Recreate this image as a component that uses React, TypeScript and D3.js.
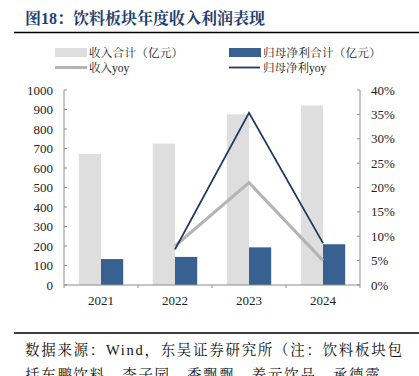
import React from "react";
import * as d3 from "d3";

const years = ["2021", "2022", "2023", "2024"];
const revenue = [672, 725, 875, 920];
const netProfit = [133, 144, 193, 209];
const revenueYoy = [null, 8.0, 21.0, 5.0];
const profitYoy = [null, 7.3, 35.3, 8.6];
const leftTicks = [0, 100, 200, 300, 400, 500, 600, 700, 800, 900, 1000];
const rightTicks = [0, 5, 10, 15, 20, 25, 30, 35, 40];

const serif = "'Liberation Serif', 'Noto Sans CJK SC', serif";
const cjk = "'Liberation Serif', 'Noto Serif CJK SC', 'Noto Sans CJK SC', serif";

export default function App() {
  const W = 419, H = 376;
  const x0 = 64, x1 = 360, yTop = 90, yBot = 285;
  const x = d3.scaleBand().domain(years).range([x0, x1]).paddingInner(0).paddingOuter(0);
  const yL = d3.scaleLinear().domain([0, 1000]).range([yBot, yTop]);
  const yR = d3.scaleLinear().domain([0, 40]).range([yBot, yTop]);
  const bw = x.bandwidth();
  const barW = bw * 0.3;
  const axisColor = "#8c8c8c";

  const line = d3
    .line<[string, number | null]>()
    .defined((d) => d[1] != null)
    .x((d) => (x(d[0]) as number) + bw / 2)
    .y((d) => yR(d[1] as number));

  const revPts = years.map((y, i) => [y, revenueYoy[i]] as [string, number | null]);
  const profPts = years.map((y, i) => [y, profitYoy[i]] as [string, number | null]);

  return (
    <svg width={W} height={H} style={{ position: "absolute", left: 0, top: 0, background: "#fff" }}>
      <text x={25} y={24} fontFamily={cjk} fontWeight="bold" fontSize={16} fill="#1f3f6e">
        图18：饮料板块年度收入利润表现
      </text>
      <line x1={14} x2={419} y1={32.5} y2={32.5} stroke="#000" strokeWidth={1.6} />

      {/* legend */}
      <rect x={55} y={48} width={32} height={9} fill="#dedede" />
      <text x={89} y={57} fontFamily={cjk} fontSize={11.5} letterSpacing={0.3} fill="#222">收入合计（亿元）</text>
      <rect x={229} y={48} width={32} height={9} fill="#386091" />
      <text x={263} y={57} fontFamily={cjk} fontSize={11.5} letterSpacing={0.3} fill="#222">归母净利合计（亿元）</text>
      <line x1={55} x2={87} y1={67.5} y2={67.5} stroke="#b4b4b4" strokeWidth={3} />
      <text x={89} y={72} fontFamily={cjk} fontSize={11.5} fill="#222">收入yoy</text>
      <line x1={229} x2={260} y1={67.5} y2={67.5} stroke="#1f3864" strokeWidth={1.8} />
      <text x={263} y={72} fontFamily={cjk} fontSize={11.5} fill="#222">归母净利yoy</text>

      {/* bars */}
      {years.map((yr, i) => {
        const cx = (x(yr) as number) + bw / 2;
        return (
          <g key={yr}>
            <rect x={cx - barW} y={yL(revenue[i])} width={barW} height={yBot - yL(revenue[i])} fill="#dedede" />
            <rect x={cx} y={yL(netProfit[i])} width={barW} height={yBot - yL(netProfit[i])} fill="#386091" />
          </g>
        );
      })}

      {/* lines */}
      <path d={line(revPts) || ""} fill="none" stroke="#b4b4b4" strokeWidth={3} />
      <path d={line(profPts) || ""} fill="none" stroke="#1f3864" strokeWidth={1.8} />

      {/* axes */}
      <line x1={x0} x2={x0} y1={yTop} y2={yBot} stroke={axisColor} strokeWidth={1} />
      <line x1={x1} x2={x1} y1={yTop} y2={yBot} stroke={axisColor} strokeWidth={1} />
      <line x1={x0} x2={x1} y1={yBot} y2={yBot} stroke={axisColor} strokeWidth={1} />
      {leftTicks.map((t) => (
        <g key={"l" + t}>
          <line x1={x0} x2={x0 + 3} y1={yL(t)} y2={yL(t)} stroke={axisColor} />
          <text x={53} y={yL(t) + 4.5} textAnchor="end" fontFamily={serif} fontSize={13} fill="#222">{t}</text>
        </g>
      ))}
      {rightTicks.map((t) => (
        <g key={"r" + t}>
          <line x1={x1 - 3} x2={x1} y1={yR(t)} y2={yR(t)} stroke={axisColor} />
          <text x={371} y={yR(t) + 4.5} fontFamily={serif} fontSize={13} fill="#222">{t}%</text>
        </g>
      ))}
      {[...years.map((y) => x(y) as number), x1].map((v, i) => (
        <line key={"b" + i} x1={v} x2={v} y1={yBot} y2={yBot + 3} stroke={axisColor} />
      ))}
      {years.map((yr) => (
        <text key={"x" + yr} x={(x(yr) as number) + bw / 2} y={305} textAnchor="middle" fontFamily={serif} fontSize={13} fill="#222">{yr}</text>
      ))}

      <line x1={14} x2={419} y1={333} y2={333} stroke="#000" strokeWidth={1.6} />
      <text x={25} y={355} fontFamily={cjk} fontSize={14.5} letterSpacing={1.7} fill="#111">数据来源：Wind，东吴证券研究所（注：饮料板块包</text>
      <text x={25} y={380} fontFamily={cjk} fontSize={14.5} letterSpacing={1.7} fill="#111">括东鹏饮料、李子园、香飘飘、养元饮品、承德露</text>
    </svg>
  );
}
